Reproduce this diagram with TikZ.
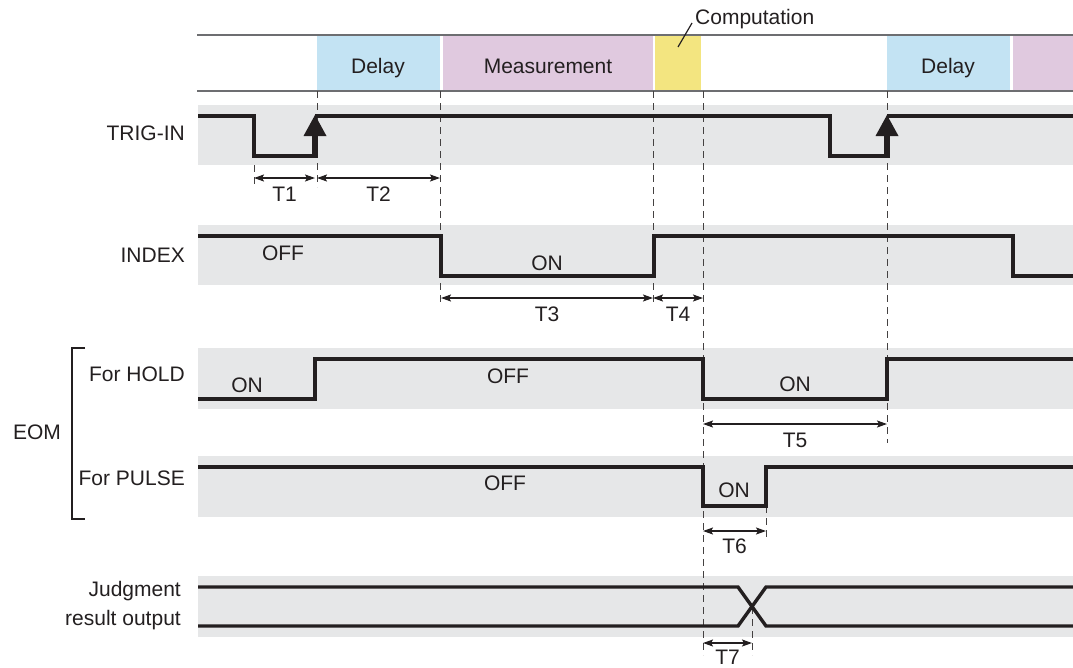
\documentclass[tikz,border=0pt]{standalone}
\usepackage{fontspec}
\setmainfont{Liberation Sans}
\usetikzlibrary{positioning, calc, arrows.meta}

\definecolor{bandgray}{RGB}{230,231,232}
\definecolor{delayblue}{RGB}{195,227,243}
\definecolor{measpink}{RGB}{224,201,223}
\definecolor{compyellow}{RGB}{243,229,128}
\definecolor{rulegray}{RGB}{109,110,113}
\definecolor{sigblack}{RGB}{35,31,32}

\tikzset{
  signal/.style={line width=3.4pt, line join=miter, color=sigblack},
  guide/.style={line width=0.9pt, dash pattern=on 7pt off 5pt, color=sigblack!85},
  span/.style={line width=1.5pt, color=sigblack,
    {Stealth[length=10pt,width=7pt,inset=2pt]}-{Stealth[length=10pt,width=7pt,inset=2pt]}},
  lbl/.style={font=\fontsize{21}{25}\selectfont, inner sep=0pt, text=sigblack},
}

\begin{document}
\begin{tikzpicture}[x=1pt, y=-1pt]
    \useasboundingbox (0,0) rectangle (1073,667);

    \foreach \ya/\yb in {105/165,225/285,348/409,456/517,576/637}
        \fill[bandgray] (198,\ya) rectangle (1073,\yb);

    \foreach \xa/\xb/\col in {317/440/delayblue,443/653/measpink,655/701/compyellow,887/1010/delayblue,1013/1073/measpink}
        \fill[\col] (\xa,36) rectangle (\xb,90);
    \draw[rulegray, line width=1.6pt] (197,35) -- (1073,35) (197,91) -- (1073,91);

    \node[lbl, anchor=base] (delayA) at (378,73) {Delay};
    \node[lbl, anchor=base] (measA) at (548,73) {Measurement};
    \node[lbl, anchor=base] (delayB) at (948,73) {Delay};
    \node[lbl, anchor=base west] (comp) at (695,24) {Computation};
    \coordinate (compmark) at (678,47);
    \draw[sigblack, line width=1.2pt] (compmark) -- ++(14,-24);

    \foreach \xg/\ya/\yb in {254/165/187,317/91/187,440/91/305,653/91/305,703/91/655,887/91/443,766/506/538,752/607/655}
        \draw[guide] (\xg,\ya) -- (\xg,\yb);

    % signals
    \draw[signal] (198,116) -- (254,116) -- (254,156) -- (315,156);
    \draw[signal] (315,116) -- (830,116) -- (830,156) -- (887,156);
    \draw[signal] (887,116) -- (1073,116);
    \foreach \xe in {315,887} {
        \fill[sigblack] (\xe-3,157.7) rectangle (\xe+3,135);
        \fill[sigblack] (\xe-11.5,136) -- (\xe,115) -- (\xe+11.5,136) -- cycle;
    }
    \draw[signal] (198,236) -- (441,236) -- (441,276) -- (654,276) -- (654,236) -- (1013,236) -- (1013,276) -- (1073,276);
    \draw[signal] (198,399) -- (315,399) -- (315,359) -- (703,359) -- (703,399) -- (887,399) -- (887,359) -- (1073,359);
    \draw[signal] (198,467) -- (703,467) -- (703,506) -- (766,506) -- (766,467) -- (1073,467);
    \draw[signal] (198,587) -- (738,587) -- (766,626) -- (1073,626);
    \draw[signal] (198,626) -- (738,626) -- (766,587) -- (1073,587);

    \foreach \xa/\xb/\yd/\dy/\name in {254/315/178/23/T1,317/440/178/23/T2,441/653/298/23/T3,653/703/298/23/T4,703/887/424/23/T5,703/766/531/22/T6,703/752/643/21/T7} {
        \draw[span] (\xa,\yd) -- (\xb,\yd);
        \node[lbl, anchor=base] (\name) at ({(\xa+\xb)/2},{\yd+\dy}) {\name};
    }

    \node[lbl, anchor=base east] (trig) at (185,140) {TRIG-IN};
    \node[lbl, anchor=base east] (index) at (185,262) {INDEX};
    \node[lbl, anchor=base east] (hold) at (185,381) {For HOLD};
    \node[lbl, anchor=base east] (pulse) at (185,485) {For PULSE};
    \node[lbl, anchor=base] (eom) at (37,439) {EOM};
    \node[lbl, anchor=base east] (judg) at (181,596) {Judgment};
    \node[lbl, anchor=base east] (result) at (181,625) {result output};
    \draw[sigblack, line width=2.5pt] (85,348) -- (72,348) -- (72,519) -- (85,519);

    \node[lbl, anchor=base] (idxoff) at (283,260) {OFF};
    \node[lbl, anchor=base] (idxon) at (547,270) {ON};
    \node[lbl, anchor=base] (holdonA) at (247,392) {ON};
    \node[lbl, anchor=base] (holdoff) at (508,383) {OFF};
    \node[lbl, anchor=base] (holdonB) at (795,391) {ON};
    \node[lbl, anchor=base] (pulseoff) at (505,490) {OFF};
    \node[lbl, anchor=base] (pulseon) at (734,497) {ON};
\end{tikzpicture}
\end{document}
